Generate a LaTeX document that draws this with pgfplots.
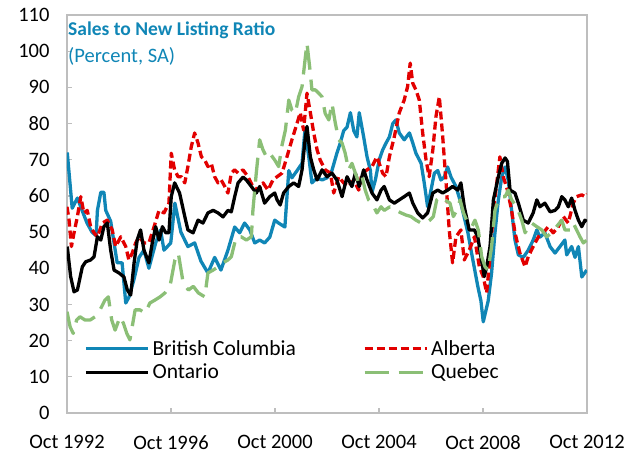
\documentclass[border=0pt]{standalone}
\usepackage{fontspec}
\setmainfont{Carlito}
\usepackage{pgfplots}
\pgfplotsset{compat=1.18}
\definecolor{bc}{RGB}{16,134,182}
\definecolor{ab}{RGB}{226,0,0}
\definecolor{qc}{RGB}{139,191,118}
\definecolor{frame}{RGB}{190,190,190}
\begin{document}
\begin{tikzpicture}
\useasboundingbox (-67pt,-42pt) rectangle (568pt,413pt);
\begin{axis}[
  at={(0pt,0pt)}, anchor=south west,
  scale only axis, width=520pt, height=398pt,
  xmin=1992.75, xmax=2012.75, ymin=0, ymax=110,
  xtick={1992.75,1996.75,2000.75,2004.75,2008.75,2012.75},
  xticklabels={Oct 1992,Oct 1996,Oct 2000,Oct 2004,Oct 2008,Oct 2012},
  ytick={0,10,...,110},
  xtick pos=bottom, ytick pos=left, tick align=inside,
  major tick length=5pt,
  axis line style={draw=frame, line width=1.6pt},
  every tick/.style={draw=frame, line width=1.2pt},
  /pgf/number format/assume math mode=true,
  tick label style={font=\fontsize{20.5}{24}\selectfont, text=black},
  yticklabel style={xshift=-14pt},
  xticklabel style={yshift=-19pt},
  legend columns=2,
  legend cell align=left,
  legend image code/.code={\draw[#1] (0pt,0pt) -- (62pt,0pt);},
  legend style={draw=none, fill=none, at={(0.027,0.19)}, anchor=north west,
    font=\fontsize{21.5}{24}\selectfont, row sep=5pt,
    nodes={inner ysep=1pt, inner xsep=3pt},
    /tikz/every even column/.append style={column sep=64pt}},
  every axis plot/.append style={line width=3.3pt, line join=round},
]
% British Columbia
\addplot[bc] coordinates {
(1992.76,72)(1992.95,56.6)(1993.15,59.4)(1993.33,56)(1993.52,52.5)(1993.71,50)(1993.87,49)(1993.92,56)
(1994.05,61)(1994.17,61)(1994.24,56)(1994.43,53)(1994.56,47)(1994.68,41.5)(1994.87,41.5)(1995.01,30.4)
(1995.13,32)(1995.33,37)(1995.52,43)(1995.71,45)(1995.90,40)(1996.16,47)(1996.35,50.6)(1996.48,45)
(1996.74,47)(1996.90,58)(1997.13,50)(1997.40,46)(1997.66,47)(1997.90,42)(1998.17,38.7)(1998.43,43)
(1998.67,39.5)(1998.94,45)(1999.20,51.4)(1999.39,49.8)(1999.58,52.5)(1999.78,50.6)(1999.97,47)(2000.16,47.8)
(2000.35,47)(2000.55,48.6)(2000.74,53.3)(2000.89,52.5)(2001.13,51.4)(2001.28,67)(2001.40,65)(2001.60,67)
(2001.79,69)(2001.90,78)(2002.05,70.8)(2002.17,63.6)(2002.37,65)(2002.56,64.4)(2002.75,65)(2002.94,67)
(2003.13,71.8)(2003.26,74.6)(2003.39,78)(2003.52,79)(2003.65,83)(2003.78,78)(2003.90,76.3)(2003.99,83)
(2004.16,76.3)(2004.29,70.8)(2004.42,67)(2004.48,61)(2004.61,64.4)(2004.76,70)(2004.89,72.7)(2005.02,74.6)
(2005.15,76.3)(2005.28,80)(2005.40,81)(2005.53,77.4)(2005.72,75.5)(2005.92,77.4)(2006.05,74.6)(2006.17,71.8)
(2006.37,69)(2006.49,63.6)(2006.62,57)(2006.75,61.6)(2006.88,66.3)(2007.01,67)(2007.13,64.4)(2007.26,65.2)
(2007.39,68)(2007.52,65.2)(2007.71,62.6)(2007.90,58)(2008.03,54)(2008.17,49.8)(2008.29,45)(2008.42,40)
(2008.55,35)(2008.67,31)(2008.76,25.2)(2008.95,31)(2009.08,38.7)(2009.21,49.8)(2009.34,58.9)(2009.47,65.2)
(2009.60,68)(2009.72,64.4)(2009.85,56)(2009.98,47.8)(2010.11,43.7)(2010.30,43)(2010.49,45)(2010.68,47.8)
(2010.82,50.6)(2010.94,48.6)(2011.13,49.8)(2011.33,46)(2011.52,44.2)(2011.71,46)(2011.90,47.8)(2011.97,43.7)
(2012.16,46)(2012.29,43)(2012.42,46)(2012.55,37.6)(2012.74,39.5)
};
\addlegendentry{British Columbia}
% Alberta
\addplot[ab, dash pattern=on 8pt off 4pt] coordinates {
(1992.75,57)(1992.83,53.3)(1992.92,46)(1993.02,49.8)(1993.15,54.3)(1993.28,59.8)(1993.40,55.3)(1993.53,56)
(1993.66,51.5)(1993.79,49.8)(1993.92,48.7)(1994.11,52.5)(1994.30,53.3)(1994.49,50.6)(1994.62,46)(1994.82,48.7)
(1995.01,46)(1995.13,42.3)(1995.26,44.2)(1995.39,47)(1995.52,48.7)(1995.71,47)(1995.90,47)(1996.10,51.5)
(1996.29,56)(1996.48,55.3)(1996.67,58)(1996.76,71.8)(1996.89,67.2)(1997.02,65.3)(1997.15,65.3)(1997.28,63.6)
(1997.40,68.1)(1997.53,73.6)(1997.66,77.4)(1997.79,74.6)(1997.92,70.8)(1998.05,69.9)(1998.17,68.1)(1998.30,69)
(1998.43,65.3)(1998.56,63.6)(1998.68,64.4)(1998.82,62.6)(1998.94,60.8)(1999.07,66.3)(1999.20,67.2)(1999.33,66.3)
(1999.52,67.2)(1999.71,65.3)(1999.90,62.6)(2000.10,61.6)(2000.29,63.6)(2000.48,61.6)(2000.67,64.4)(2000.83,65.3)
(2001.02,66.3)(2001.21,70.8)(2001.40,75.5)(2001.60,80.1)(2001.72,83)(2001.85,78.2)(2001.98,88.4)(2002.11,83)
(2002.24,77.4)(2002.37,72.7)(2002.49,69.9)(2002.68,67.2)(2002.88,66.3)(2003.01,60.8)(2003.20,65.3)(2003.39,63.6)
(2003.58,62.6)(2003.78,64.4)(2003.97,61.6)(2004.10,66.3)(2004.29,67.2)(2004.48,68.1)(2004.67,70.8)(2004.76,69)
(2004.89,66.3)(2005.02,65.3)(2005.15,70.8)(2005.34,76.4)(2005.53,83)(2005.72,86.5)(2005.85,90.2)(2005.95,96.7)
(2006.05,91.1)(2006.17,89.3)(2006.30,86.5)(2006.43,77.4)(2006.56,69.9)(2006.68,65.3)(2006.82,72.7)(2006.94,81.9)
(2007.07,87.4)(2007.20,76.4)(2007.33,63.6)(2007.45,50.6)(2007.58,41.5)(2007.71,48.7)(2007.90,50.6)(2008.03,42.3)
(2008.22,45)(2008.42,48.7)(2008.61,40.4)(2008.76,37.7)(2008.89,33.2)(2009.02,43.2)(2009.15,56)(2009.28,63.6)
(2009.40,70.8)(2009.53,65.3)(2009.69,61.6)(2009.85,56)(2009.98,49.8)(2010.17,44.2)(2010.37,40.4)(2010.49,43.2)
(2010.68,46)(2010.88,48.7)(2011.07,49.8)(2011.26,51.5)(2011.45,49.8)(2011.65,51.5)(2011.84,54.3)(2012.03,52.5)
(2012.22,58)(2012.35,59.8)(2012.55,60.3)(2012.67,59.8)(2012.75,60.5)
};
\addlegendentry{Alberta}
% Ontario
\addplot[black] coordinates {
(1992.76,46)(1992.89,37.7)(1993.02,33.5)(1993.15,34)(1993.34,40.4)(1993.47,41.8)(1993.66,42.3)(1993.79,43.2)
(1993.92,48.7)(1994.05,47.8)(1994.17,51.5)(1994.30,52.5)(1994.43,45)(1994.56,39.5)(1994.75,38.7)(1994.94,37.6)
(1995.07,34)(1995.20,32.6)(1995.33,41.5)(1995.45,47.8)(1995.58,50.6)(1995.71,45)(1995.90,41.5)(1996.03,47)
(1996.16,51.5)(1996.29,47.8)(1996.42,51.5)(1996.55,49.8)(1996.67,49.8)(1996.76,59.8)(1996.89,63.6)(1997.08,60.8)
(1997.28,54.3)(1997.40,50.6)(1997.60,49.8)(1997.79,53.3)(1997.98,52.5)(1998.17,55.3)(1998.37,56)(1998.56,55.3)
(1998.75,54.2)(1998.94,56)(1999.07,55.6)(1999.20,59.8)(1999.33,63.6)(1999.52,65.2)(1999.65,64.4)(1999.84,62.6)
(2000.03,60.8)(2000.16,62.6)(2000.35,58)(2000.55,59.8)(2000.74,60.8)(2000.83,58.9)(2000.95,57.5)(2001.08,60.8)
(2001.28,62.6)(2001.47,63.6)(2001.66,62.6)(2001.79,67.2)(2001.92,76.4)(2001.98,79.2)(2002.11,70.8)(2002.24,67.2)
(2002.37,64.4)(2002.56,67.2)(2002.75,65.3)(2002.94,66.3)(2003.13,64.4)(2003.33,59.8)(2003.52,65.3)(2003.71,62.6)
(2003.84,66.3)(2003.99,62.6)(2004.16,67.2)(2004.29,64.4)(2004.48,60.8)(2004.67,58.9)(2004.83,61.6)(2004.95,62.6)
(2005.15,58.9)(2005.34,58)(2005.53,58.9)(2005.72,59.8)(2005.92,60.8)(2006.05,58)(2006.24,55.3)(2006.43,53.9)
(2006.62,55.3)(2006.82,60.8)(2007.01,61.6)(2007.20,60.8)(2007.39,61.6)(2007.58,62.6)(2007.78,61.6)(2007.90,63.6)
(2008.03,57)(2008.22,50.6)(2008.42,50.6)(2008.55,48.7)(2008.67,43.2)(2008.80,37.7)(2008.89,40.4)(2009.02,46)
(2009.15,58.9)(2009.34,65.3)(2009.47,69)(2009.60,70.5)(2009.69,69.5)(2009.79,61.6)(2009.98,60.8)(2010.11,58)
(2010.30,53.3)(2010.49,52.5)(2010.68,55.3)(2010.82,58.9)(2010.94,57)(2011.13,58)(2011.33,55.6)(2011.52,56)
(2011.65,57)(2011.78,59.8)(2011.90,58.9)(2012.03,57)(2012.16,59.4)(2012.29,56)(2012.42,53.3)(2012.55,51.5)
(2012.67,53.3)(2012.74,52.9)
};
\addlegendentry{Ontario}
% Quebec
\addplot[qc, dash pattern=on 24pt off 10pt] coordinates {
(1992.75,28)(1992.87,23.8)(1992.99,22)(1993.12,25.7)(1993.25,26.6)(1993.44,25.7)(1993.64,25.7)(1993.83,26.6)
(1994.02,28.5)(1994.21,31.2)(1994.34,32.1)(1994.47,25.7)(1994.60,22.9)(1994.79,26.6)(1994.92,24.8)(1995.05,22)
(1995.17,20.2)(1995.37,28.5)(1995.56,28.5)(1995.75,27.6)(1995.94,30.4)(1996.13,31.2)(1996.33,32.1)(1996.52,33.2)
(1996.71,35)(1996.90,42.3)(1997.03,44.2)(1997.22,35.9)(1997.42,34)(1997.61,35)(1997.80,33.2)(1998.05,32.1)
(1998.17,38.7)(1998.37,39.5)(1998.56,40.4)(1998.75,41.5)(1998.94,42.3)(1999.07,43.2)(1999.26,48.7)(1999.45,48.7)
(1999.65,47.8)(1999.84,48.7)(1999.90,56)(2000.03,66.3)(2000.16,75.5)(2000.29,72.7)(2000.42,70.8)(2000.55,71.8)
(2000.74,69.9)(2000.89,68.1)(2001.02,74)(2001.15,78.2)(2001.28,86.5)(2001.40,83.7)(2001.53,82.8)(2001.66,87.4)
(2001.79,90.2)(2001.92,98.5)(2001.98,102.2)(2002.11,93.9)(2002.17,89.3)(2002.30,89.3)(2002.43,88.4)(2002.56,87.4)
(2002.68,82.8)(2002.82,81)(2002.94,85.6)(2003.07,80.1)(2003.20,75.5)(2003.33,74.6)(2003.45,71.8)(2003.58,67.2)
(2003.71,69)(2003.84,66.3)(2003.97,63.6)(2004.10,65.3)(2004.22,61.6)(2004.35,58.9)(2004.48,58)(2004.67,55.3)
(2004.83,57)(2004.95,56)(2005.17,57)(2005.40,56)(2005.60,55.3)(2005.79,54.7)(2005.98,54.3)(2006.17,53.3)
(2006.37,52.5)(2006.56,52.5)(2006.71,53.3)(2006.84,54.3)(2006.97,58.9)(2007.10,59.8)(2007.29,58.9)(2007.48,58)
(2007.61,54.3)(2007.74,56)(2007.87,58.9)(2008.00,55.3)(2008.12,53.3)(2008.32,51.5)(2008.44,53.3)(2008.57,50.6)
(2008.70,43.2)(2008.83,40.4)(2008.95,39.5)(2009.08,46)(2009.21,56)(2009.34,58.9)(2009.47,59.8)(2009.60,59.8)
(2009.72,61.6)(2009.85,58.9)(2010.05,57)(2010.24,53.3)(2010.37,49.8)(2010.49,51.5)(2010.62,52.5)(2010.82,51.5)
(2011.01,50.6)(2011.20,48.7)(2011.39,49.8)(2011.58,51.5)(2011.78,53.3)(2011.90,50.6)(2012.10,50.6)(2012.22,52.5)
(2012.35,50.6)(2012.48,48.7)(2012.61,47)(2012.74,47.8)
};
\addlegendentry{Quebec}
\node[anchor=north west, inner sep=0pt, text=bc, font=\fontsize{19.5}{22}\selectfont\bfseries]
  at (rel axis cs:0.002,0.983) {Sales to New Listing Ratio};
\node[anchor=north west, inner sep=0pt, text=bc, font=\fontsize{20.5}{24}\selectfont]
  at (rel axis cs:0.002,0.92) {(Percent, SA)};
\end{axis}
\end{tikzpicture}
\end{document}
